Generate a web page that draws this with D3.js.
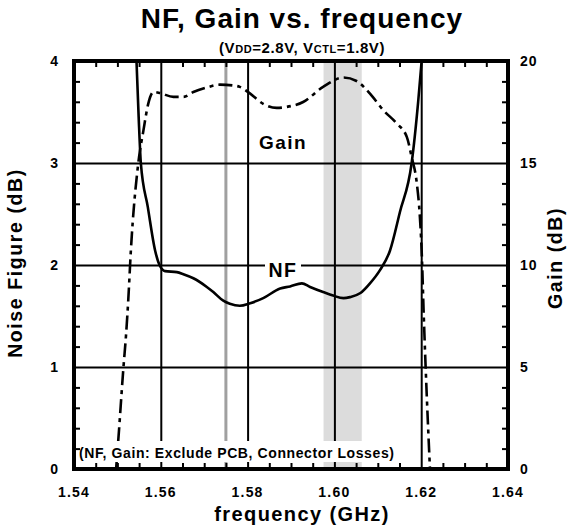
<!DOCTYPE html>
<html>
<head>
<meta charset="utf-8">
<script src="https://cdn.jsdelivr.net/npm/d3@7"></script>
<style>
  body { margin: 0; background: #fff; }
  #chart { position: relative; width: 574px; height: 532px; }
  #chart svg { position: absolute; left: 0; top: 0; }
  .lbl { font-family: "Liberation Sans", Arial, sans-serif; font-weight: bold; fill: #000; }
</style>
</head>
<body>
<div id="chart"></div>
<script>
// NF / GAIN VS FREQUENCY CHART

// 1. Data
var nfFreq = [1.5544, 1.5549, 1.5554, 1.5570, 1.5587, 1.5597, 1.5610, 1.5637, 1.5652, 1.5675,
  1.5706, 1.5721, 1.5744, 1.5759, 1.5782, 1.5806, 1.5836, 1.5875, 1.5898, 1.5925, 1.5944,
  1.5974, 1.5997, 1.6021, 1.6036, 1.6060, 1.6082, 1.6105, 1.6128, 1.6151, 1.6178, 1.6193, 1.6201];
var nfValues = [4.0, 3.45, 3.0, 2.57, 2.14, 2.0, 1.94, 1.93, 1.91, 1.87,
  1.785, 1.735, 1.65, 1.62, 1.60, 1.625, 1.675, 1.77, 1.79, 1.82, 1.785,
  1.735, 1.70, 1.675, 1.685, 1.725, 1.82, 1.95, 2.14, 2.52, 3.0, 3.6, 4.0];

var gainFreq = [1.5497, 1.5502, 1.5514, 1.5520, 1.5525, 1.5531, 1.5548, 1.5560, 1.5571, 1.5583,
  1.5598, 1.5629, 1.5652, 1.5675, 1.5706, 1.5736, 1.5767, 1.5782, 1.5806, 1.5836, 1.5867,
  1.5890, 1.5928, 1.5974, 1.6021, 1.6051, 1.6082, 1.6113, 1.6144, 1.6167, 1.6178, 1.6190,
  1.6197, 1.6201, 1.6206, 1.6213, 1.6220];
var gainValues = [0, 1.4, 5.0, 6.6, 8.27, 10.7, 14.97, 16.6, 17.9, 18.48,
  18.43, 18.24, 18.24, 18.48, 18.7, 18.84, 18.8, 18.73, 18.4, 17.9, 17.7,
  17.75, 17.99, 18.73, 19.19, 19.02, 18.4, 17.58, 16.93, 16.27, 15.29, 13.99,
  12.35, 10.72, 7.45, 3.5, 0.1];

// tick labels
var freqTicks = [1.54, 1.56, 1.58, 1.60, 1.62, 1.64];
var nfTicks = [0, 1, 2, 3, 4];
var gainTicks = [0, 5, 10, 15, 20];

// minor ticks
var minorFreq = [1.545, 1.55, 1.555, 1.565, 1.57, 1.575, 1.585, 1.59, 1.595,
  1.605, 1.61, 1.615, 1.625, 1.63, 1.635];
var minorNF = [0.2, 0.4, 0.6, 0.8, 1.2, 1.4, 1.6, 1.8, 2.2, 2.4, 2.6, 2.8, 3.2, 3.4, 3.6, 3.8];

// marker lines: GPS L1 line and the shaded band
var markerFreq = 1.575;
var bandFreq = [1.5975, 1.6063];

// 2. SVG area
var svgWidth = 574;
var svgHeight = 532;

var margin = { top: 61, right: 66, bottom: 63, left: 74 };
var plotW = svgWidth - margin.left - margin.right;
var plotH = svgHeight - margin.top - margin.bottom;

var chartDiv = d3.select("#chart");

var svg = chartDiv.append("svg")
  .attr("width", svgWidth)
  .attr("height", svgHeight);

var chartGroup = svg.append("g")
  .attr("transform", `translate(${margin.left}, ${margin.top})`);

// Scales
var xScale = d3.scaleLinear().domain([1.54, 1.64]).range([0, plotW]);
var yScale = d3.scaleLinear().domain([0, 4]).range([plotH, 0]);
var y2Scale = d3.scaleLinear().domain([0, 20]).range([plotH, 0]);

// 3. Shaded band and gray marker
chartGroup.append("rect")
  .attr("x", xScale(bandFreq[0]))
  .attr("y", 0)
  .attr("width", xScale(bandFreq[1]) - xScale(bandFreq[0]))
  .attr("height", plotH)
  .attr("fill", "#dcdcdc");

chartGroup.append("line")
  .attr("x1", xScale(markerFreq)).attr("x2", xScale(markerFreq))
  .attr("y1", 0).attr("y2", plotH)
  .attr("stroke", "#a0a0a0")
  .attr("stroke-width", 3);

// Grid lines
chartGroup.append("g")
  .call(d3.axisBottom(xScale).tickValues(freqTicks.slice(1, -1)).tickSize(plotH).tickFormat(""))
  .call(g => g.select(".domain").remove())
  .selectAll("line").attr("stroke", "#000").attr("stroke-width", 2);

chartGroup.append("g")
  .call(d3.axisLeft(yScale).tickValues(nfTicks.slice(1, -1)).tickSize(-plotW).tickFormat(""))
  .call(g => g.select(".domain").remove())
  .selectAll("line").attr("stroke", "#000").attr("stroke-width", 2);

// 4. Curves
var nfData = nfFreq.map((f, i) => ({ f: f, v: nfValues[i] }));
var gainData = gainFreq.map((f, i) => ({ f: f, v: gainValues[i] }));

var nfLine = d3.line()
  .x(d => xScale(d.f))
  .y(d => yScale(d.v))
  .curve(d3.curveMonotoneX);

var gainLine = d3.line()
  .x(d => xScale(d.f))
  .y(d => y2Scale(d.v))
  .curve(d3.curveMonotoneX);

chartGroup.append("path")
  .datum(gainData)
  .attr("d", gainLine)
  .attr("fill", "none")
  .attr("stroke", "#000")
  .attr("stroke-width", 2.6)
  .attr("stroke-dasharray", "14,5,4,5");

chartGroup.append("path")
  .datum(nfData)
  .attr("d", nfLine)
  .attr("fill", "none")
  .attr("stroke", "#000")
  .attr("stroke-width", 2.6);

// 5. In-plot labels
chartGroup.append("text")
  .attr("class", "lbl")
  .attr("x", 209)
  .attr("y", 88)
  .attr("text-anchor", "middle")
  .attr("font-size", "19px")
  .attr("letter-spacing", "1.5px")
  .text("Gain");

chartGroup.append("rect")
  .attr("x", 191)
  .attr("y", yScale(2) - 3)
  .attr("width", 36)
  .attr("height", 6)
  .attr("fill", "#fff");

chartGroup.append("text")
  .attr("class", "lbl")
  .attr("x", 209)
  .attr("y", 216)
  .attr("text-anchor", "middle")
  .attr("font-size", "19.5px")
  .attr("letter-spacing", "1.5px")
  .text("NF");

// footnote with white box behind
chartGroup.append("rect")
  .attr("x", 3)
  .attr("y", plotH - 28)
  .attr("width", 326)
  .attr("height", 21)
  .attr("fill", "#fff");

chartGroup.append("text")
  .attr("class", "lbl")
  .attr("x", 5)
  .attr("y", plotH - 11)
  .attr("font-size", "14px")
  .attr("letter-spacing", "0.6px")
  .text("(NF, Gain: Exclude PCB, Connector Losses)");

// Tick labels
chartGroup.selectAll(".xLabel")
  .data(freqTicks)
  .enter()
  .append("text")
  .attr("class", "lbl xLabel")
  .attr("x", d => xScale(d))
  .attr("y", plotH + 28)
  .attr("text-anchor", "middle")
  .attr("font-size", "14px")
  .attr("letter-spacing", "1.2px")
  .text(d => d3.format(".2f")(d));

chartGroup.selectAll(".yLabel")
  .data(nfTicks)
  .enter()
  .append("text")
  .attr("class", "lbl yLabel")
  .attr("x", -16)
  .attr("y", d => yScale(d) + 5)
  .attr("text-anchor", "end")
  .attr("font-size", "14px")
  .text(d => d);

chartGroup.selectAll(".y2Label")
  .data(gainTicks)
  .enter()
  .append("text")
  .attr("class", "lbl y2Label")
  .attr("x", plotW + 12)
  .attr("y", d => y2Scale(d) + 5)
  .attr("text-anchor", "start")
  .attr("font-size", "14px")
  .attr("letter-spacing", "1px")
  .text(d => d);

// 6. Titles and axis labels
svg.append("text")
  .attr("class", "lbl")
  .attr("x", 302)
  .attr("y", 28)
  .attr("text-anchor", "middle")
  .attr("font-size", "28px")
  .attr("letter-spacing", "1px")
  .text("NF, Gain vs. frequency");

var sub = svg.append("text")
  .attr("class", "lbl")
  .attr("x", 302)
  .attr("y", 53)
  .attr("text-anchor", "middle")
  .attr("font-size", "15px")
  .attr("letter-spacing", "0.6px");
sub.append("tspan").text("(V");
sub.append("tspan").attr("font-size", "11px").text("DD");
sub.append("tspan").text("=2.8V, V");
sub.append("tspan").attr("font-size", "11px").text("CTL");
sub.append("tspan").text("=1.8V)");

svg.append("text")
  .attr("class", "lbl")
  .attr("x", 302)
  .attr("y", 521)
  .attr("text-anchor", "middle")
  .attr("font-size", "20px")
  .attr("letter-spacing", "1.4px")
  .text("frequency (GHz)");

svg.append("text")
  .attr("class", "lbl")
  .attr("transform", "translate(22, 263) rotate(-90)")
  .attr("text-anchor", "middle")
  .attr("font-size", "19.5px")
  .attr("letter-spacing", "1.6px")
  .text("Noise Figure (dB)");

svg.append("text")
  .attr("class", "lbl")
  .attr("transform", "translate(562, 258) rotate(-90)")
  .attr("text-anchor", "middle")
  .attr("font-size", "19.5px")
  .attr("letter-spacing", "1.6px")
  .text("Gain (dB)");

// 7. Frame and inward minor ticks on an overlay svg
var overlay = chartDiv.append("svg")
  .attr("width", svgWidth)
  .attr("height", svgHeight);

var axisGroup = overlay.append("g")
  .attr("transform", `translate(${margin.left}, ${margin.top})`);

axisGroup.append("g")
  .attr("transform", `translate(0, ${plotH})`)
  .call(d3.axisTop(xScale).tickValues(minorFreq).tickSize(6).tickSizeOuter(0).tickFormat(""));

axisGroup.append("g")
  .call(d3.axisBottom(xScale).tickValues(minorFreq).tickSize(6).tickSizeOuter(0).tickFormat(""));

axisGroup.append("g")
  .call(d3.axisRight(yScale).tickValues(minorNF).tickSize(6).tickSizeOuter(0).tickFormat(""));

axisGroup.append("g")
  .attr("transform", `translate(${plotW}, 0)`)
  .call(d3.axisLeft(yScale).tickValues(minorNF).tickSize(6).tickSizeOuter(0).tickFormat(""));

axisGroup.selectAll(".domain").remove();

axisGroup.selectAll(".tick line")
  .attr("stroke", "#000")
  .attr("stroke-width", 2);

axisGroup.append("rect")
  .attr("x", xScale.range()[0])
  .attr("y", yScale.range()[1])
  .attr("width", xScale.range()[1] - xScale.range()[0])
  .attr("height", yScale.range()[0] - yScale.range()[1])
  .attr("fill", "none")
  .attr("stroke", "#000")
  .attr("stroke-width", 3.5);

// HTML border over the same plot area
chartDiv.append("div")
  .style("position", "absolute")
  .style("box-sizing", "border-box")
  .style("left", (margin.left - 2) + "px")
  .style("top", (margin.top - 2) + "px")
  .style("width", (plotW + 4) + "px")
  .style("height", (plotH + 4) + "px")
  .style("border", "4px solid #000")
  .style("pointer-events", "none");
</script>
</body>
</html>
